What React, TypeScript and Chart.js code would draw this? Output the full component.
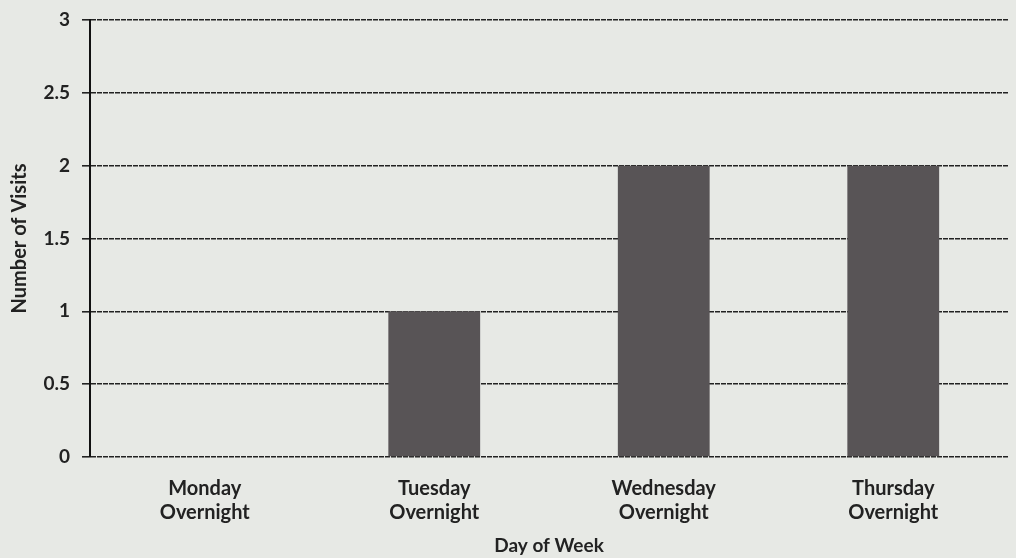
import React, { useEffect, useRef } from "react";
import { Chart, registerables } from "chart.js";

Chart.register(...registerables);

const categories: string[][] = [
  ["Monday", "Overnight"],
  ["Tuesday", "Overnight"],
  ["Wednesday", "Overnight"],
  ["Thursday", "Overnight"],
];
const visits: number[] = [0, 1, 2, 2];
const yTicks: number[] = [0, 0.5, 1, 1.5, 2, 2.5, 3];

const FONT = "Lato, 'Open Sans', sans-serif";

const bgPlugin = {
  id: "bg",
  beforeDraw(chart: any) {
    const { ctx, width, height } = chart;
    ctx.save();
    ctx.fillStyle = "#e7e9e5";
    ctx.fillRect(0, 0, width, height);
    ctx.restore();
  },
};

export default function App() {
  const ref = useRef<HTMLCanvasElement | null>(null);
  useEffect(() => {
    if (!ref.current) return;
    const chart = new Chart(ref.current, {
      type: "bar",
      data: {
        labels: categories,
        datasets: [
          {
            label: "Number of Visits",
            data: visits,
            backgroundColor: "#585456",
            borderWidth: 0,
            barPercentage: 0.4,
            categoryPercentage: 1,
          },
        ],
      },
      options: {
        animation: false,
        responsive: false,
        maintainAspectRatio: false,
        layout: { padding: { top: 20, right: 8, left: 8, bottom: 1 } },
        plugins: {
          legend: { display: false },
          tooltip: { enabled: false },
        },
        scales: {
          x: {
            afterFit: (scale: any) => {
              scale.height = 100;
            },
            grid: { display: false, drawTicks: false },
            border: { display: false },
            ticks: {
              color: "#222",
              padding: 20,
              font: { family: FONT, size: 20, weight: "bold", lineHeight: 1.2 },
              maxRotation: 0,
            },
            title: {
              display: true,
              text: "Day of Week",
              color: "#222",
              font: { family: FONT, size: 19, weight: "bold", lineHeight: 1.2 },
              padding: { top: 8, bottom: 0 },
            },
          },
          y: {
            min: 0,
            max: 3,
            afterFit: (scale: any) => {
              scale.width = 82;
              scale.paddingTop = 0;
            },
            afterBuildTicks: (scale: any) => {
              scale.ticks = yTicks.map((v) => ({ value: v }));
            },
            grid: {
              color: "#222",
              lineWidth: 1.6,
              drawTicks: true,
              tickLength: 8,
              tickColor: "#222",
            },
            border: { display: true, color: "#111", width: 2, dash: [5, 1] },
            ticks: {
              color: "#222",
              padding: 12,
              font: { family: FONT, size: 19, weight: "bold" },
              callback: (v: any) => String(v),
            },
            title: {
              display: true,
              text: "Number of Visits",
              color: "#222",
              font: { family: FONT, size: 20, weight: "bold", lineHeight: 1.2 },
              padding: { top: 0, bottom: 6 },
            },
          },
        },
      },
      plugins: [bgPlugin],
    });
    return () => chart.destroy();
  }, []);
  return (
    <div style={{ position: "fixed", left: 0, top: 0, width: 1016, height: 558 }}>
      <canvas ref={ref} width={1016} height={558} />
    </div>
  );
}
